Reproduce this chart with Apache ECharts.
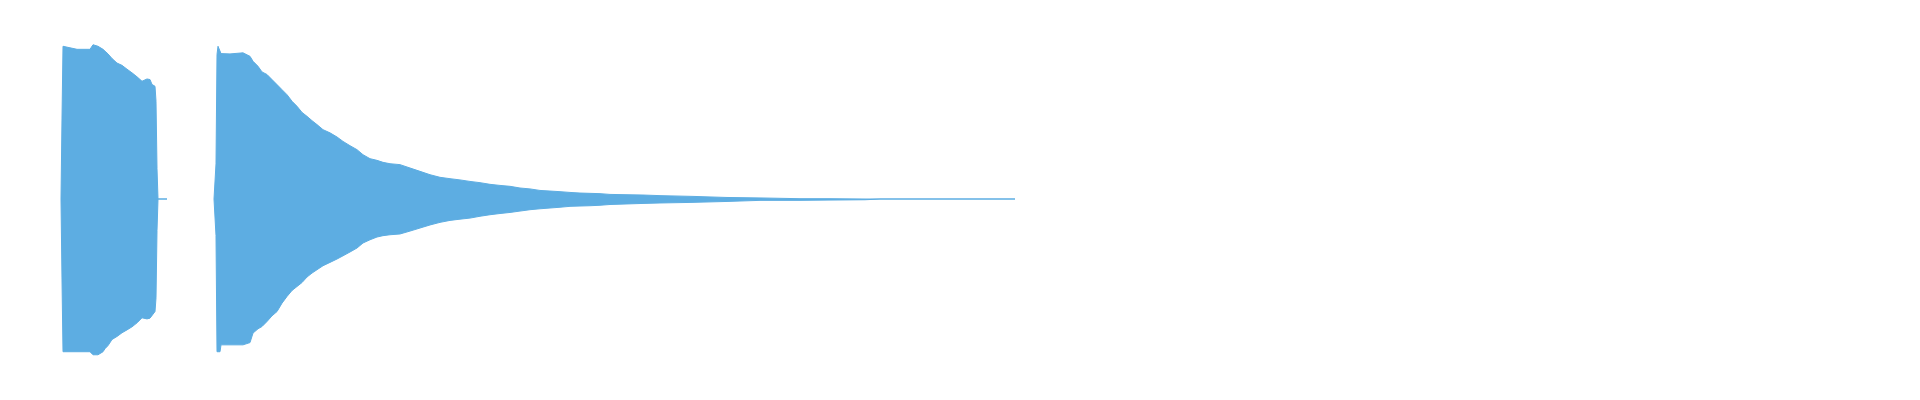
<!DOCTYPE html>
<html>
<head>
<meta charset="utf-8">
<title>waveform</title>
<script src="https://cdn.jsdelivr.net/npm/echarts@6/dist/echarts.min.js"></script>
<style>
    html, body { margin: 0; padding: 0; background: #fff; }
    #main { width: 1920px; height: 400px; }
</style>
</head>
<body>
<div id="main"></div>
<script>
// frame index (one peak pair per column), null = no audio in that stretch
var frames = [61, 62, 63, 70, 77, 83, 90, 93, 98, 100, 103, 105, 108, 112, 117, 122, 127, 132, 137, 142,
    147, 150, 152, 155, 156, 157, 158, 167, 190,
    214, 216, 217, 218, 220, 221, 230, 243, 250, 253, 258, 262, 267, 272, 277, 282, 287, 292, 297, 302,
    307, 312, 317, 323, 330, 337, 343, 350, 357, 363, 370, 377, 383, 390, 400, 410, 420, 430, 440, 450,
    460, 470, 480, 490, 500, 510, 520, 530, 540, 550, 560, 570, 580, 590, 600, 610, 643, 660, 693, 727,
    760, 800, 830, 865, 880, 1015];
// max peak of each frame
var upperPeak = [0, 0.53, 1.0, 0.99, 0.98, 0.98, 0.98, 1.01, 1.0, 0.99, 0.98, 0.97, 0.95, 0.92, 0.89, 0.875, 0.85, 0.826, 0.8, 0.771,
    0.786, 0.782, 0.75, 0.738, 0.64, 0.2, 0, 0, null,
    0, 0.23, 0.946, 1.0, 1.0, 0.952, 0.95, 0.957, 0.934, 0.902, 0.869, 0.832, 0.815, 0.782, 0.749, 0.716, 0.683, 0.64, 0.607, 0.567,
    0.541, 0.513, 0.487, 0.454, 0.433, 0.406, 0.377, 0.349, 0.323, 0.29, 0.264, 0.253, 0.24, 0.231, 0.225, 0.203, 0.181, 0.159, 0.142, 0.133,
    0.125, 0.115, 0.107, 0.096, 0.089, 0.083, 0.072, 0.066, 0.056, 0.052, 0.048, 0.043, 0.039, 0.037, 0.035, 0.03, 0.026, 0.022, 0.017, 0.01,
    0.007, 0.002, 0.002, 0, 0, 0];
// min peak of each frame
var lowerPeak = [0, -0.53, -1.0, -1.0, -1.0, -1.0, -1.0, -1.02, -1.02, -1.02, -1.0, -0.98, -0.96, -0.92, -0.9, -0.876, -0.857, -0.837, -0.811, -0.778,
    -0.785, -0.78, -0.769, -0.737, -0.647, -0.206, 0, 0, null,
    0, -0.24, -1.0, -1.0, -1.0, -0.955, -0.955, -0.955, -0.94, -0.878, -0.85, -0.835, -0.802, -0.765, -0.737, -0.682, -0.638, -0.599, -0.573, -0.547,
    -0.511, -0.485, -0.463, -0.437, -0.415, -0.393, -0.372, -0.347, -0.321, -0.288, -0.267, -0.249, -0.24, -0.234, -0.229, -0.21, -0.19, -0.17, -0.153, -0.14,
    -0.132, -0.125, -0.113, -0.103, -0.095, -0.088, -0.079, -0.07, -0.064, -0.059, -0.054, -0.048, -0.046, -0.044, -0.041, -0.036, -0.029, -0.026, -0.022, -0.016,
    -0.009, -0.009, -0.007, -0.005, 0, 0];

var waveColor = '#5dade2';

function pairUp(xs, ys) {
    var out = [];
    for (var i = 0; i < xs.length; i++) {
        out.push([xs[i], ys[i] === null ? '-' : ys[i]]);
    }
    return out;
}

function peakSeries(name, values) {
    return {
        name: name,
        type: 'line',
        data: pairUp(frames, values),
        showSymbol: false,
        connectNulls: false,
        lineStyle: { color: waveColor, width: 1 },
        areaStyle: { color: waveColor, opacity: 1, origin: 0 },
        silent: true
    };
}

var myChart = echarts.init(document.getElementById('main'));
var option = {
    animation: false,
    backgroundColor: '#ffffff',
    grid: { left: 0, right: 0, top: 31, bottom: 33 },
    xAxis: {
        type: 'value',
        min: 0,
        max: 1920,
        show: false
    },
    yAxis: {
        type: 'value',
        min: -1.1,
        max: 1.1,
        show: false
    },
    series: [
        peakSeries('max', upperPeak),
        peakSeries('min', lowerPeak)
    ]
};
option && myChart.setOption(option);
</script>
</body>
</html>
